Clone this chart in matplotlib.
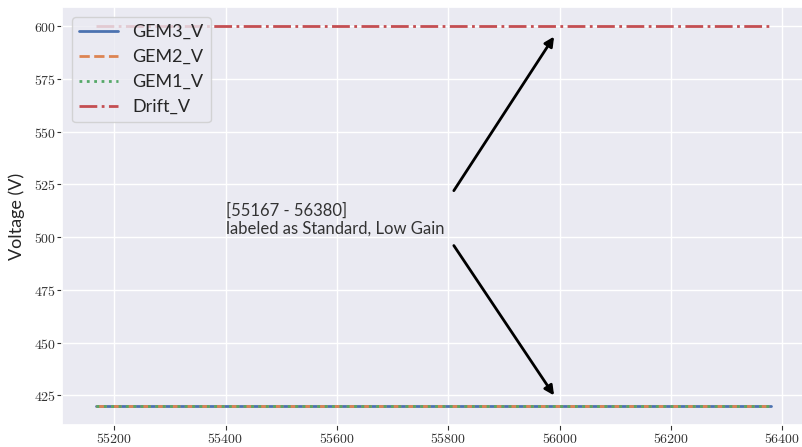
import matplotlib
matplotlib.use('Agg')
import matplotlib.pyplot as plt
import seaborn as sns
from matplotlib.ticker import FuncFormatter

# run range and HV settings
runs = [55167, 56380]
gem3_v = [420, 420]
gem2_v = [420, 420]
gem1_v = [420, 420]
drift_v = [600, 600]

label_text = '[55167 - 56380]\nlabeled as Standard, Low Gain'

sns.set_theme(style='darkgrid', palette='deep')
plt.rcParams['font.family'] = ['Lato', 'DejaVu Sans']
plt.rcParams['mathtext.fontset'] = 'cm'

fig = plt.figure(figsize=(8.02, 4.47), dpi=100)
ax = fig.add_axes([62 / 802, 22 / 447, 743 / 802, 418 / 447])

ax.plot(runs, gem3_v, '-', lw=2, label='GEM3_V')
ax.plot(runs, gem2_v, '--', lw=2, label='GEM2_V')
ax.plot(runs, gem1_v, ':', lw=2, label='GEM1_V')
ax.plot(runs, drift_v, '-.', lw=2, label='Drift_V')

ax.set_ylabel('Voltage (V)', fontsize=13, labelpad=6)
ax.legend(loc='upper left', fontsize=13, handlelength=2.15, borderaxespad=0.55)

ax.text(55400, 500, label_text, fontsize=12, color='#333333', va='bottom', ha='left',
        linespacing=1.15)
arrow = dict(arrowstyle='-|>', lw=2, color='black', mutation_scale=14, shrinkA=0, shrinkB=0)
ax.annotate('', xy=(55990, 595), xytext=(55810, 522), arrowprops=arrow)
ax.annotate('', xy=(55990, 425), xytext=(55810, 496), arrowprops=arrow)

fmt = FuncFormatter(lambda v, p: r'$%d$' % v)
ax.xaxis.set_major_formatter(fmt)
ax.yaxis.set_major_formatter(fmt)
ax.tick_params(axis='both', which='major', length=3.5, width=0.8, color='#333333',
               labelsize=10, labelcolor='#333333', left=True, bottom=True, pad=1)

fig.savefig('out.png', dpi=100)
